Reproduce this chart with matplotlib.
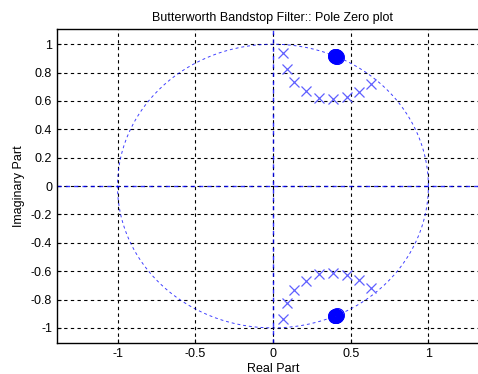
import numpy as np
import matplotlib
matplotlib.use("Agg")
from matplotlib import pyplot as plt

plt.rcParams['font.family'] = ['Liberation Sans', 'DejaVu Sans']

# poles (upper half; lower half is the conjugate)
pole_re = [0.062, 0.092, 0.137, 0.210, 0.298, 0.388, 0.478, 0.555, 0.628]
pole_im = [0.939, 0.822, 0.732, 0.669, 0.622, 0.611, 0.629, 0.665, 0.716]

# repeated zeros on the unit circle (numerically spread a little)
zero_re = [0.400, 0.405, 0.410, 0.398, 0.412, 0.403, 0.407, 0.401]
zero_im = [0.917, 0.914, 0.912, 0.918, 0.911, 0.915, 0.913, 0.916]

x_ticks = [-1, -0.5, 0, 0.5, 1]
x_ticklabels = ['-1', '-0.5', '0', '0.5', '1']
y_ticks = [-1, -0.8, -0.6, -0.4, -0.2, 0, 0.2, 0.4, 0.6, 0.8, 1]
y_ticklabels = ['-1', '-0.8', '-0.6', '-0.4', '-0.2', '0', '0.2', '0.4', '0.6', '0.8', '1']

blue = '#0000ff'

fig = plt.figure(figsize=(4.78, 3.74), dpi=100)
ax = fig.add_axes([0.119, 0.083, 0.904, 0.839])

ax.set_xlim(-1.39, 1.39)
ax.set_ylim(-1.106, 1.106)

# grid
ax.set_xticks(x_ticks)
ax.set_xticklabels(x_ticklabels)
ax.set_yticks(y_ticks)
ax.set_yticklabels(y_ticklabels)
ax.grid(True, color='black', linestyle=(0, (3, 3)), linewidth=0.8)
ax.set_axisbelow(True)

# unit circle and axes lines
t = np.linspace(0, 2 * np.pi, 400)
ax.plot(np.cos(t), np.sin(t), color=blue, linestyle=(0, (3, 3)), linewidth=0.7, alpha=0.75)
ax.axhline(0, color=blue, linestyle=(0, (3, 3)), linewidth=1.0, alpha=0.8)
ax.axvline(0, color=blue, linestyle=(0, (3, 3)), linewidth=1.0, alpha=0.8)

# poles
pr = np.array(pole_re)
pi_ = np.array(pole_im)
ax.plot(np.r_[pr, pr], np.r_[pi_, -pi_], 'x', color='#6060ff', markersize=6.5, markeredgewidth=0.9)

# zeros, drawn as many overlapping circles (looks like a scribbled blob)
zr = np.array(zero_re)
zi = np.array(zero_im)
for ms in [10, 8, 6, 4, 2]:
    ax.plot(np.r_[zr, zr], np.r_[zi, -zi], 'o', color=blue, markerfacecolor='none',
            markersize=ms, markeredgewidth=0.7, alpha=0.8)

ax.tick_params(direction='in', length=3, labelsize=9, colors='black')
for s in ax.spines.values():
    s.set_linewidth(1.0)

ax.set_title('Butterworth Bandstop Filter:: Pole Zero plot', fontsize=9, pad=6)
ax.set_xlabel('Real Part', fontsize=9, labelpad=2)
ax.set_ylabel('Imaginary Part', fontsize=9, labelpad=4)

fig.savefig('out.png', dpi=100)
